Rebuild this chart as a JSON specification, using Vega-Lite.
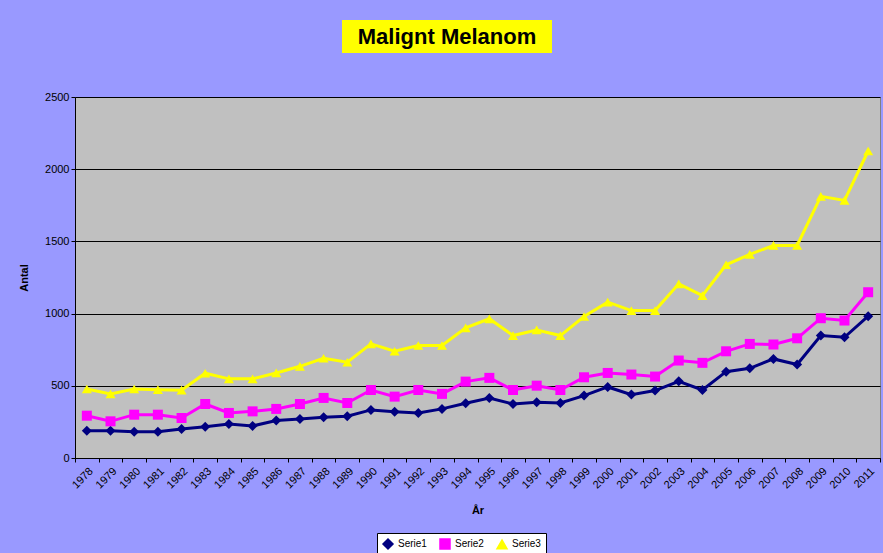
{
  "$schema": "https://vega.github.io/schema/vega-lite/v6.json",
  "background": "#9999FF",
  "padding": {"left": 17, "top": 20, "right": 2, "bottom": 40},
  "spacing": 37,
  "center": true,
  "config": {
    "font": "Liberation Sans",
    "axis": {"labelFont": "Liberation Sans", "titleFont": "Liberation Sans"},
    "legend": {"labelFont": "Liberation Sans"}
  },
  "datasets": {
    "melanom": [
      {"year": "1978", "serie": "Serie1", "value": 189}, {"year": "1979", "serie": "Serie1", "value": 189},
      {"year": "1980", "serie": "Serie1", "value": 182}, {"year": "1981", "serie": "Serie1", "value": 182},
      {"year": "1982", "serie": "Serie1", "value": 201}, {"year": "1983", "serie": "Serie1", "value": 217},
      {"year": "1984", "serie": "Serie1", "value": 236}, {"year": "1985", "serie": "Serie1", "value": 222},
      {"year": "1986", "serie": "Serie1", "value": 259}, {"year": "1987", "serie": "Serie1", "value": 270},
      {"year": "1988", "serie": "Serie1", "value": 282}, {"year": "1989", "serie": "Serie1", "value": 289},
      {"year": "1990", "serie": "Serie1", "value": 333}, {"year": "1991", "serie": "Serie1", "value": 321},
      {"year": "1992", "serie": "Serie1", "value": 312}, {"year": "1993", "serie": "Serie1", "value": 340},
      {"year": "1994", "serie": "Serie1", "value": 379}, {"year": "1995", "serie": "Serie1", "value": 416},
      {"year": "1996", "serie": "Serie1", "value": 374}, {"year": "1997", "serie": "Serie1", "value": 386},
      {"year": "1998", "serie": "Serie1", "value": 381}, {"year": "1999", "serie": "Serie1", "value": 432},
      {"year": "2000", "serie": "Serie1", "value": 492}, {"year": "2001", "serie": "Serie1", "value": 439},
      {"year": "2002", "serie": "Serie1", "value": 467}, {"year": "2003", "serie": "Serie1", "value": 531},
      {"year": "2004", "serie": "Serie1", "value": 471}, {"year": "2005", "serie": "Serie1", "value": 598},
      {"year": "2006", "serie": "Serie1", "value": 621}, {"year": "2007", "serie": "Serie1", "value": 686},
      {"year": "2008", "serie": "Serie1", "value": 647}, {"year": "2009", "serie": "Serie1", "value": 848},
      {"year": "2010", "serie": "Serie1", "value": 836}, {"year": "2011", "serie": "Serie1", "value": 982},
      {"year": "1978", "serie": "Serie2", "value": 293}, {"year": "1979", "serie": "Serie2", "value": 254},
      {"year": "1980", "serie": "Serie2", "value": 300}, {"year": "1981", "serie": "Serie2", "value": 300},
      {"year": "1982", "serie": "Serie2", "value": 277}, {"year": "1983", "serie": "Serie2", "value": 374},
      {"year": "1984", "serie": "Serie2", "value": 312}, {"year": "1985", "serie": "Serie2", "value": 323},
      {"year": "1986", "serie": "Serie2", "value": 340}, {"year": "1987", "serie": "Serie2", "value": 374},
      {"year": "1988", "serie": "Serie2", "value": 416}, {"year": "1989", "serie": "Serie2", "value": 381},
      {"year": "1990", "serie": "Serie2", "value": 471}, {"year": "1991", "serie": "Serie2", "value": 425},
      {"year": "1992", "serie": "Serie2", "value": 471}, {"year": "1993", "serie": "Serie2", "value": 444},
      {"year": "1994", "serie": "Serie2", "value": 529}, {"year": "1995", "serie": "Serie2", "value": 555},
      {"year": "1996", "serie": "Serie2", "value": 471}, {"year": "1997", "serie": "Serie2", "value": 501},
      {"year": "1998", "serie": "Serie2", "value": 471}, {"year": "1999", "serie": "Serie2", "value": 559},
      {"year": "2000", "serie": "Serie2", "value": 589}, {"year": "2001", "serie": "Serie2", "value": 578},
      {"year": "2002", "serie": "Serie2", "value": 564}, {"year": "2003", "serie": "Serie2", "value": 675},
      {"year": "2004", "serie": "Serie2", "value": 659}, {"year": "2005", "serie": "Serie2", "value": 739},
      {"year": "2006", "serie": "Serie2", "value": 790}, {"year": "2007", "serie": "Serie2", "value": 786},
      {"year": "2008", "serie": "Serie2", "value": 829}, {"year": "2009", "serie": "Serie2", "value": 968},
      {"year": "2010", "serie": "Serie2", "value": 952}, {"year": "2011", "serie": "Serie2", "value": 1148},
      {"year": "1978", "serie": "Serie3", "value": 478}, {"year": "1979", "serie": "Serie3", "value": 444},
      {"year": "1980", "serie": "Serie3", "value": 478}, {"year": "1981", "serie": "Serie3", "value": 473},
      {"year": "1982", "serie": "Serie3", "value": 470}, {"year": "1983", "serie": "Serie3", "value": 587},
      {"year": "1984", "serie": "Serie3", "value": 548}, {"year": "1985", "serie": "Serie3", "value": 548},
      {"year": "1986", "serie": "Serie3", "value": 589}, {"year": "1987", "serie": "Serie3", "value": 635},
      {"year": "1988", "serie": "Serie3", "value": 691}, {"year": "1989", "serie": "Serie3", "value": 663},
      {"year": "1990", "serie": "Serie3", "value": 790}, {"year": "1991", "serie": "Serie3", "value": 739},
      {"year": "1992", "serie": "Serie3", "value": 779}, {"year": "1993", "serie": "Serie3", "value": 779},
      {"year": "1994", "serie": "Serie3", "value": 901}, {"year": "1995", "serie": "Serie3", "value": 964},
      {"year": "1996", "serie": "Serie3", "value": 848}, {"year": "1997", "serie": "Serie3", "value": 887},
      {"year": "1998", "serie": "Serie3", "value": 848}, {"year": "1999", "serie": "Serie3", "value": 980},
      {"year": "2000", "serie": "Serie3", "value": 1079}, {"year": "2001", "serie": "Serie3", "value": 1021},
      {"year": "2002", "serie": "Serie3", "value": 1021}, {"year": "2003", "serie": "Serie3", "value": 1206},
      {"year": "2004", "serie": "Serie3", "value": 1125}, {"year": "2005", "serie": "Serie3", "value": 1338},
      {"year": "2006", "serie": "Serie3", "value": 1410}, {"year": "2007", "serie": "Serie3", "value": 1472},
      {"year": "2008", "serie": "Serie3", "value": 1472}, {"year": "2009", "serie": "Serie3", "value": 1812},
      {"year": "2010", "serie": "Serie3", "value": 1784}, {"year": "2011", "serie": "Serie3", "value": 2126}
    ]
  },
  "vconcat": [
    {
      "spacing": 0,
      "hconcat": [
        {
          "width": 210,
          "height": 33,
          "data": {"values": [{"t": "Malignt Melanom"}]},
          "view": {"fill": "#FFFF00", "stroke": null},
          "mark": {"type": "text", "fontSize": 22, "fontWeight": "bold", "font": "Liberation Sans", "color": "#000000", "baseline": "middle", "align": "center"},
          "encoding": {"text": {"field": "t"}}
        },
        {
          "width": 62,
          "height": 33,
          "data": {"values": [{"t": ""}]},
          "view": {"fill": null, "stroke": null},
          "mark": {"type": "text", "opacity": 0},
          "encoding": {"text": {"field": "t"}}
        }
      ]
    },
    {
      "width": 805,
      "height": 361,
      "data": {"name": "melanom"},
      "view": {"fill": "#C0C0C0", "stroke": "#808080", "strokeWidth": 1},
      "mark": {"type": "line", "strokeWidth": 3, "point": {"size": 100, "filled": true, "opacity": 1}},
      "encoding": {
        "x": {
          "field": "year", "type": "ordinal", "title": "År",
          "scale": {"type": "band", "paddingInner": 0, "paddingOuter": 0},
          "axis": {
            "labelAngle": -45, "labelFontSize": 11, "labelColor": "#000000", "labelPadding": 3,
            "tickBand": "extent", "tickColor": "#000000", "tickSize": 4,
            "domainColor": "#000000", "grid": false,
            "titleFontSize": 11, "titleFontWeight": "bold", "titleColor": "#000000", "titlePadding": 14
          }
        },
        "y": {
          "field": "value", "type": "quantitative", "title": "Antal",
          "scale": {"domain": [0, 2500], "nice": false},
          "axis": {
            "values": [0, 500, 1000, 1500, 2000, 2500], "format": "d",
            "labelFontSize": 11, "labelColor": "#000000",
            "tickColor": "#000000", "tickSize": 4, "domainColor": "#000000",
            "gridColor": "#000000", "gridOpacity": 1, "gridWidth": 1,
            "titleFontSize": 11, "titleFontWeight": "bold", "titleColor": "#000000",
            "minExtent": 40, "maxExtent": 40, "titlePadding": 6
          }
        },
        "color": {
          "field": "serie", "type": "nominal",
          "scale": {"domain": ["Serie1", "Serie2", "Serie3"], "range": ["#000080", "#FF00FF", "#FFFF00"]},
          "legend": {
            "orient": "none", "legendX": 302, "legendY": 513, "direction": "horizontal", "title": null,
            "fillColor": "#FFFFFF", "strokeColor": "#000000", "padding": 5,
            "labelFontSize": 10, "labelColor": "#000000"
          }
        },
        "shape": {
          "field": "serie", "type": "nominal",
          "scale": {"domain": ["Serie1", "Serie2", "Serie3"], "range": ["diamond", "square", "triangle-up"]},
          "legend": null
        }
      }
    }
  ]
}
